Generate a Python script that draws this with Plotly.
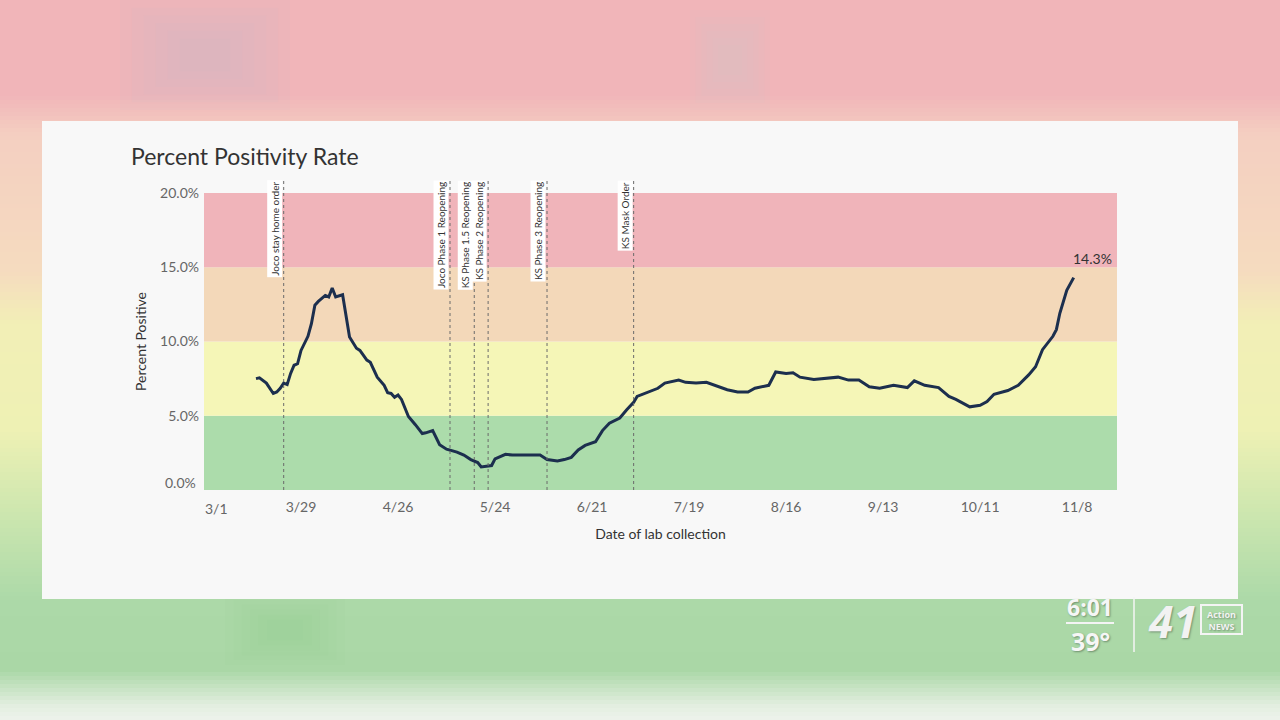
import plotly.graph_objects as go

# ---------------- data ----------------
dates = [
    "2020-03-16", "2020-03-17", "2020-03-19", "2020-03-21", "2020-03-22", "2020-03-23",
    "2020-03-24", "2020-03-25", "2020-03-26", "2020-03-27", "2020-03-28", "2020-03-29",
    "2020-03-31", "2020-04-01", "2020-04-02", "2020-04-03", "2020-04-05", "2020-04-06",
    "2020-04-07", "2020-04-08", "2020-04-10", "2020-04-11", "2020-04-12", "2020-04-14",
    "2020-04-15", "2020-04-17", "2020-04-18", "2020-04-20", "2020-04-22", "2020-04-23",
    "2020-04-24", "2020-04-25", "2020-04-26", "2020-04-27", "2020-04-29", "2020-05-01",
    "2020-05-03", "2020-05-04", "2020-05-06", "2020-05-08", "2020-05-10", "2020-05-13",
    "2020-05-15", "2020-05-17", "2020-05-19", "2020-05-20", "2020-05-21", "2020-05-23",
    "2020-05-24", "2020-05-27", "2020-05-29", "2020-06-01", "2020-06-03", "2020-06-06",
    "2020-06-08", "2020-06-11", "2020-06-13", "2020-06-15", "2020-06-17", "2020-06-19",
    "2020-06-22", "2020-06-24", "2020-06-26", "2020-06-29", "2020-07-01", "2020-07-03",
    "2020-07-04", "2020-07-07", "2020-07-10", "2020-07-12", "2020-07-16", "2020-07-18",
    "2020-07-21", "2020-07-24", "2020-07-28", "2020-07-30", "2020-08-02", "2020-08-05",
    "2020-08-07", "2020-08-11", "2020-08-13", "2020-08-16", "2020-08-18", "2020-08-20",
    "2020-08-24", "2020-08-27", "2020-08-31", "2020-09-03", "2020-09-06", "2020-09-09",
    "2020-09-12", "2020-09-14", "2020-09-16", "2020-09-20", "2020-09-22", "2020-09-25",
    "2020-09-29", "2020-10-02", "2020-10-04", "2020-10-08", "2020-10-11", "2020-10-13",
    "2020-10-15", "2020-10-19", "2020-10-22", "2020-10-25", "2020-10-27", "2020-10-29",
    "2020-11-01", "2020-11-02", "2020-11-03", "2020-11-05", "2020-11-07",
]
percent_positive = [
    7.5, 7.55, 7.2, 6.5, 6.6, 6.85,
    7.2, 7.1, 7.85, 8.4, 8.5, 9.4,
    10.35, 11.2, 12.45, 12.7, 13.1, 13.0,
    13.6, 13.0, 13.15, 11.8, 10.3, 9.55,
    9.4, 8.75, 8.6, 7.6, 7.05, 6.55,
    6.5, 6.25, 6.4, 6.1, 4.95, 4.4,
    3.8, 3.85, 4.0, 3.05, 2.75, 2.55,
    2.35, 2.05, 1.85, 1.55, 1.6, 1.65,
    2.1, 2.4, 2.35, 2.35, 2.3, 2.35,
    2.05, 1.95, 2.05, 2.2, 2.7, 3.0,
    3.25, 4.0, 4.5, 4.85, 5.4, 5.9,
    6.3, 6.6, 6.85, 7.2, 7.4, 7.25,
    7.2, 7.25, 6.95, 6.75, 6.6, 6.6,
    6.85, 7.05, 7.95, 7.85, 7.9, 7.6,
    7.45, 7.5, 7.6, 7.4, 7.4, 6.95,
    6.85, 6.95, 7.05, 6.9, 7.35, 7.05,
    6.9, 6.3, 6.1, 5.6, 5.7, 5.95,
    6.45, 6.7, 7.05, 7.75, 8.3, 9.45,
    10.35, 10.8, 11.9, 13.45, 14.3,
]

event_dates = ["2020-03-24", "2020-05-11", "2020-05-18", "2020-05-22", "2020-06-08", "2020-07-03"]
event_labels = ["Joco stay home order", "Joco Phase 1 Reopening", "KS Phase 1.5 Reopening",
                "KS Phase 2 Reopening", "KS Phase 3 Reopening", "KS Mask Order"]

band_lows = [0, 5, 10, 15]
band_highs = [5, 10, 15, 20]
band_colors = ["#acdcab", "#f5f6b7", "#f3d8b9", "#f0b4ba"]

tick_dates = ["2020-03-01", "2020-03-29", "2020-04-26", "2020-05-24", "2020-06-21",
              "2020-07-19", "2020-08-16", "2020-09-13", "2020-10-11", "2020-11-08"]
tick_labels = ["3/1", "3/29", "4/26", "5/24", "6/21", "7/19", "8/16", "9/13", "10/11", "11/8"]
y_ticks = [0, 5, 10, 15, 20]
y_tick_labels = ["0.0%", "5.0%", "10.0%", "15.0%", "20.0%"]

# ---------------- layout geometry (pixels) ----------------
W, H = 1280, 720
PL, PR, PT, PB = 204, 1117, 193, 490


def px(x):
    return (x - PL) / (PR - PL)


def py(y):
    return (PB - y) / (PB - PT)


def hex2rgb(h):
    h = h.lstrip("#")
    return [int(h[i:i + 2], 16) for i in (0, 2, 4)]


def lerp_col(c1, c2, t):
    a, b = hex2rgb(c1), hex2rgb(c2)
    return "rgb(%d,%d,%d)" % tuple(round(a[i] + (b[i] - a[i]) * t) for i in range(3))


# background gradient stops for the blurred TV backdrop
bg_stops = [(0, "#f1b5b9"), (95, "#f1b5b9"), (135, "#f4cfc1"), (270, "#f5dbbf"),
            (325, "#f2efb6"), (430, "#eef1b4"), (530, "#c6e4ae"), (600, "#acd9a8"),
            (670, "#aad7a6"), (705, "#e2eedf"), (720, "#eef3ec")]

shapes = []
step = 4
for y0 in range(0, H, step):
    yc = y0 + step / 2
    for (ya, ca), (yb, cb) in zip(bg_stops[:-1], bg_stops[1:]):
        if ya <= yc <= yb:
            col = lerp_col(ca, cb, (yc - ya) / (yb - ya) if yb > ya else 0)
            break
    shapes.append(dict(type="rect", xref="paper", yref="paper", layer="below",
                       x0=px(0), x1=px(W), y0=py(y0 + step + 0.5), y1=py(y0),
                       fillcolor=col, line=dict(width=0)))

# soft blurred blobs (layered to imitate blur)
for (cx, cy, w, h, c, op) in [(205, 55, 170, 110, "#c9c2c4", 0.09), (730, 60, 80, 100, "#cfc6c8", 0.09),
                              (285, 630, 120, 70, "#8fbf90", 0.05)]:
    for k in range(6):
        s = 1 - k * 0.14
        shapes.append(dict(type="rect", xref="paper", yref="paper", layer="below",
                           x0=px(cx - w * s / 2), x1=px(cx + w * s / 2),
                           y0=py(cy + h * s / 2), y1=py(cy - h * s / 2),
                           fillcolor=c, opacity=op, line=dict(width=0)))

# white panel
shapes.append(dict(type="rect", xref="paper", yref="paper", layer="below",
                   x0=px(42), x1=px(1238), y0=py(599), y1=py(121),
                   fillcolor="#f8f8f8", line=dict(width=0)))

# colour bands
for lo, hi, c in zip(band_lows, band_highs, band_colors):
    shapes.append(dict(type="rect", xref="paper", yref="y", layer="below",
                       x0=0, x1=1, y0=lo, y1=hi, fillcolor=c, line=dict(width=0)))

# event lines
for d in event_dates:
    shapes.append(dict(type="line", xref="x", yref="paper", layer="above",
                       x0=d, x1=d, y0=0, y1=py(178),
                       line=dict(color="#6a6a6a", width=1, dash="dot")))

# ticker divider lines
shapes.append(dict(type="line", xref="paper", yref="paper", x0=px(1066), x1=px(1114),
                   y0=py(623), y1=py(623), line=dict(color="#f4f4f4", width=2)))
shapes.append(dict(type="line", xref="paper", yref="paper", x0=px(1134), x1=px(1134),
                   y0=py(652), y1=py(597), line=dict(color="#f4f4f4", width=1.5)))
shapes.append(dict(type="rect", xref="paper", yref="paper", x0=px(1201), x1=px(1242),
                   y0=py(634), y1=py(605), fillcolor="rgba(0,0,0,0)",
                   line=dict(color="#f4f4f4", width=2)))

FONT = "Lato"
TICKFONT = dict(family=FONT, size=14, color="#666666")
annotations = []
annotations.append(dict(text="Percent Positivity Rate", xref="paper", yref="paper",
                        x=px(129), y=py(156), xanchor="left", yanchor="middle", showarrow=False,
                        font=dict(family=FONT, size=23, color="#333333")))
for d, lab in zip(event_dates, event_labels):
    annotations.append(dict(text=lab, xref="x", yref="paper", x=d, y=py(180),
                            xanchor="right", yanchor="top", xshift=-1, showarrow=False,
                            textangle=-90, bgcolor="#ffffff", borderpad=1,
                            font=dict(family=FONT, size=10, color="#333333")))
annotations.append(dict(text="%.1f%%" % percent_positive[-1], x=dates[-1], y=percent_positive[-1],
                        xref="x", yref="y", xanchor="center", yanchor="bottom", xshift=19, yshift=9,
                        showarrow=False, font=dict(family=FONT, size=14, color="#333333")))
# edge tick labels nudged inward like the original (avoids corner overlap)
annotations.append(dict(text=y_tick_labels[0], xref="paper", yref="y", x=px(198), y=y_ticks[0],
                        xanchor="right", yanchor="middle", yshift=8, showarrow=False, font=TICKFONT))
annotations.append(dict(text=tick_labels[0], xref="x", yref="paper", x=tick_dates[0], y=py(508),
                        xanchor="center", yanchor="middle", xshift=12, showarrow=False, font=TICKFONT))

shadow = "1px 1px 2px #6f8f6f"
annotations.append(dict(text="6:01", xref="paper", yref="paper", x=px(1090), y=py(607),
                        xanchor="center", yanchor="middle", showarrow=False,
                        font=dict(family="Open Sans", size=23, color="#f6f6f6", weight="bold", shadow=shadow)))
annotations.append(dict(text="39°", xref="paper", yref="paper", x=px(1090), y=py(641),
                        xanchor="center", yanchor="middle", showarrow=False,
                        font=dict(family="Open Sans", size=25, color="#f6f6f6", weight="bold", shadow=shadow)))
annotations.append(dict(text="<i>41</i>", xref="paper", yref="paper", x=px(1172), y=py(621),
                        xanchor="center", yanchor="middle", showarrow=False,
                        font=dict(family="Open Sans", size=44, color="#f2f2f2", weight="bold", shadow=shadow)))
annotations.append(dict(text="Action<br>NEWS", xref="paper", yref="paper", x=px(1221), y=py(620),
                        xanchor="center", yanchor="middle", showarrow=False,
                        font=dict(family="Open Sans", size=9, color="#f2f2f2", weight="bold", shadow=shadow)))

fig = go.Figure()
fig.add_trace(go.Scatter(x=dates, y=percent_positive, mode="lines",
                         line=dict(color="#1c2f4e", width=3), hoverinfo="x+y",
                         showlegend=False))

fig.update_layout(
    width=W, height=H, autosize=False,
    margin=dict(l=PL, r=W - PR, t=PT, b=H - PB, pad=0),
    paper_bgcolor="#f1b5b9", plot_bgcolor="rgba(0,0,0,0)",
    shapes=shapes, annotations=annotations,
    font=dict(family=FONT, color="#555555"),
    xaxis=dict(type="date", range=["2020-03-01", "2020-11-19 12:00"],
               tickmode="array", tickvals=tick_dates, ticktext=[""] + tick_labels[1:],
               showgrid=False, zeroline=False, showline=False, ticks="",
               tickfont=TICKFONT, ticklabelstandoff=7,
               title=dict(text="Date of lab collection", standoff=15,
                          font=dict(family=FONT, size=14, color="#333333"))),
    yaxis=dict(range=[0, 20], tickmode="array", tickvals=y_ticks,
               ticktext=[""] + y_tick_labels[1:],
               showgrid=False, zeroline=False, showline=False, ticks="",
               tickfont=TICKFONT, ticklabelstandoff=4,
               title=dict(text="Percent Positive", standoff=10,
                          font=dict(family=FONT, size=14, color="#333333"))),
)

fig.write_html("out.html", config={"displayModeBar": False},
               post_script="document.body.style.margin='0';document.body.style.overflow='hidden';")
